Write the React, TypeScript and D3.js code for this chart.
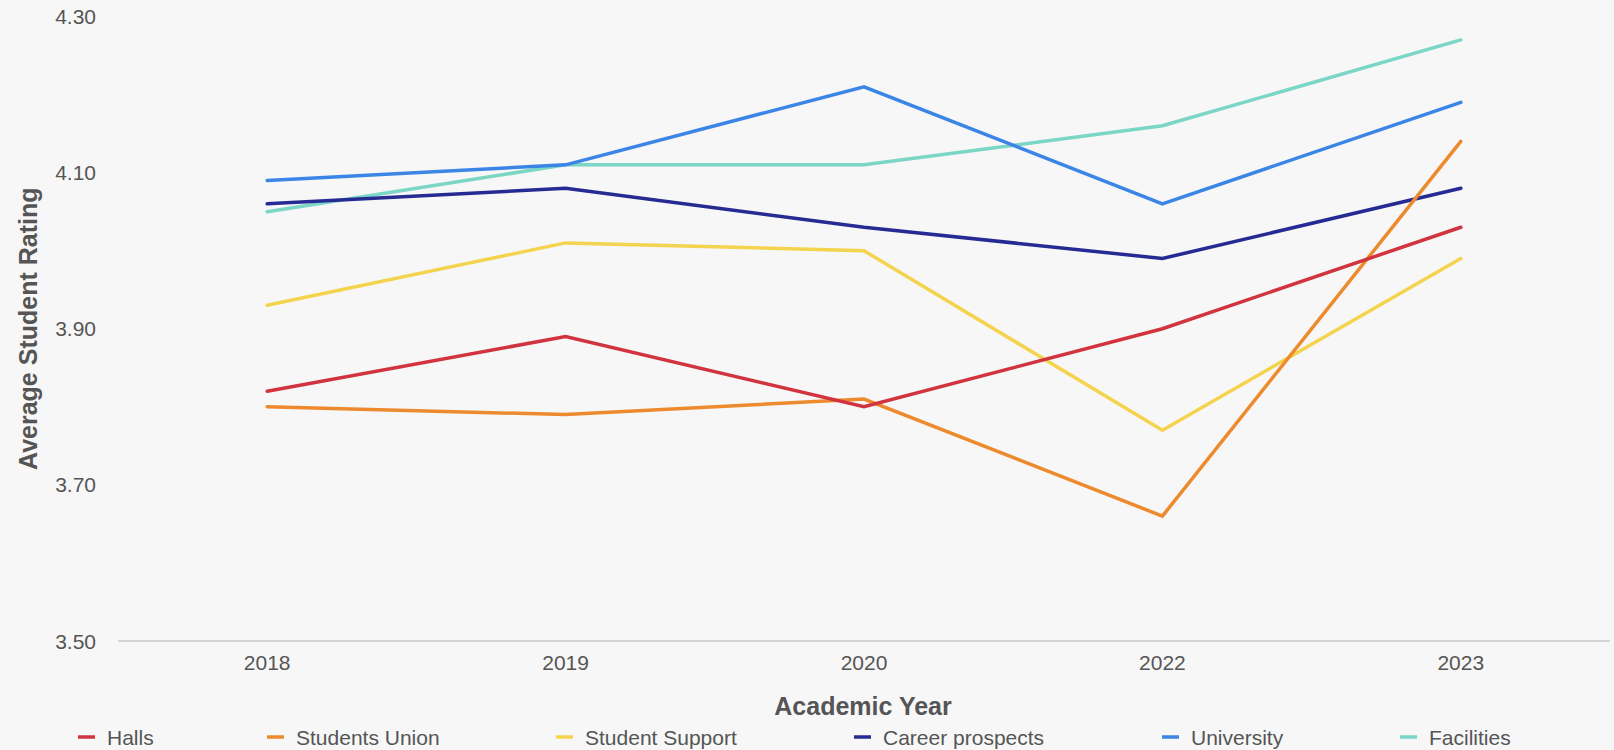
import React from "react";
import * as d3 from "d3";

const years = ["2018", "2019", "2020", "2022", "2023"];
const seriesNames = ["Halls", "Students Union", "Student Support", "Career prospects", "University", "Facilities"];
const halls = [3.82, 3.89, 3.80, 3.90, 4.03];
const studentsUnion = [3.80, 3.79, 3.81, 3.66, 4.14];
const studentSupport = [3.93, 4.01, 4.00, 3.77, 3.99];
const careerProspects = [4.06, 4.08, 4.03, 3.99, 4.08];
const university = [4.09, 4.11, 4.21, 4.06, 4.19];
const facilities = [4.05, 4.11, 4.11, 4.16, 4.27];
const yTicks = [3.5, 3.7, 3.9, 4.1, 4.3];
const colors = ["#d1343f", "#ee8a2e", "#f4d44e", "#262a93", "#3b85e6", "#7bd6c6"];

const allSeries = [halls, studentsUnion, studentSupport, careerProspects, university, facilities];

const W = 1614;
const H = 750;
const FONT = "'Liberation Sans', Arial, Helvetica, sans-serif";
const legendX = [78, 267, 556, 854, 1162, 1400];

export default function App() {
  const x = d3.scalePoint<string>().domain(years).range([118, 1610]).padding(0.5);
  const y = d3.scaleLinear().domain([3.5, 4.3]).range([641, 16.5]);
  const line = d3
    .line<number>()
    .x((_, i) => x(years[i]) as number)
    .y((d) => y(d));

  const order = allSeries.map((_, i) => i).reverse();

  return (
    <div style={{ position: "fixed", left: 0, top: 0, width: W, height: H, background: "#f7f7f7" }}>
      <svg width={W} height={H} style={{ display: "block", fontFamily: FONT }}>
        <rect x={0} y={0} width={W} height={H} fill="#f7f7f7" />
        {yTicks.map((t) => (
          <text key={t} x={96} y={y(t)} textAnchor="end" dominantBaseline="central" fontSize={21} fill="#555">
            {t.toFixed(2)}
          </text>
        ))}
        <line x1={118} x2={1610} y1={y(3.5)} y2={y(3.5)} stroke="#c8c8c8" strokeWidth={1.5} />
        {years.map((yr) => (
          <text key={yr} x={x(yr)} y={662} textAnchor="middle" dominantBaseline="central" fontSize={21} fill="#555">
            {yr}
          </text>
        ))}
        <text
          transform={`translate(28, ${y(3.9)}) rotate(-90)`}
          textAnchor="middle"
          dominantBaseline="central"
          fontSize={25}
          fontWeight="bold"
          fill="#555"
        >
          Average Student Rating
        </text>
        <text x={863} y={706} textAnchor="middle" dominantBaseline="central" fontSize={25} fontWeight="bold" fill="#555">
          Academic Year
        </text>
        {order.map((i) => (
          <path
            key={seriesNames[i]}
            d={line(allSeries[i]) || ""}
            fill="none"
            stroke={colors[i]}
            strokeWidth={3.5}
            strokeLinecap="round"
            strokeLinejoin="miter"
          />
        ))}
        {seriesNames.map((n, i) => (
          <g key={n} transform={`translate(${legendX[i]}, 737)`}>
            <line x1={0} x2={17} y1={0} y2={0} stroke={colors[i]} strokeWidth={3.5} />
            <text x={29} y={0} dominantBaseline="central" fontSize={21} fill="#555">
              {n}
            </text>
          </g>
        ))}
      </svg>
    </div>
  );
}
